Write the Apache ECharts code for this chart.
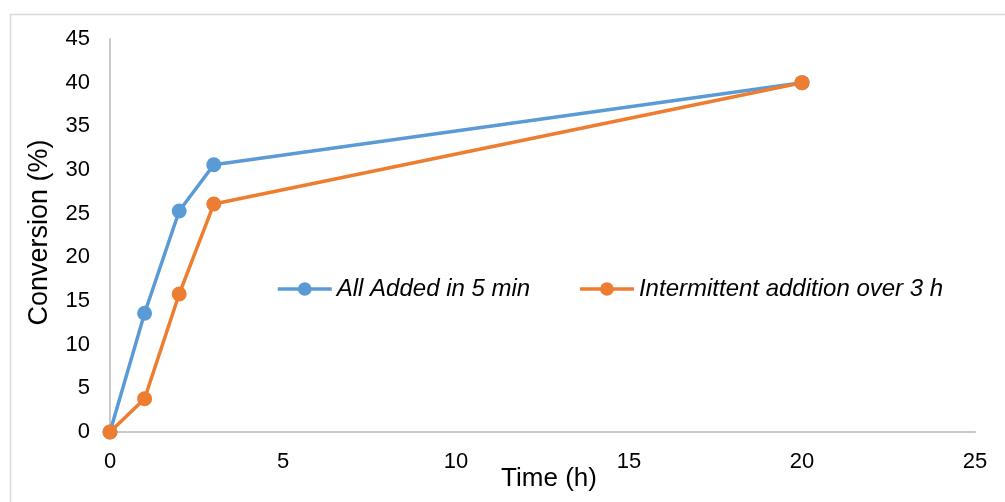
<!DOCTYPE html>
<html>
<head>
<meta charset="utf-8">
<script src="https://cdn.jsdelivr.net/npm/echarts@6/dist/echarts.min.js"></script>
<style>
  html, body { margin: 0; padding: 0; background: #fff; }
  #chart { width: 1005px; height: 502px; }
</style>
</head>
<body>
<div id="chart"></div>
<script>
// time (h) for each sample
var timeH = [0, 1, 2, 3, 20];
var allAdded = [0, 13.6, 25.3, 30.6, 40];
var intermittent = [0, 3.8, 15.8, 26.1, 40];
var seriesNames = ['All Added in 5 min', 'Intermittent addition over 3 h'];

function pairs(xs, ys) {
    var out = [];
    for (var i = 0; i < xs.length; i++) {
        out.push([xs[i], ys[i]]);
    }
    return out;
}

var myChart = echarts.init(document.getElementById('chart'));
var font = 'Liberation Sans, Arial, sans-serif';

var option = {
    animation: false,
    backgroundColor: '#ffffff',
    textStyle: { fontFamily: font },
    graphic: [{
        type: 'rect',
        left: 8,
        top: 12,
        shape: { width: 996, height: 500 },
        style: { fill: 'none', stroke: '#d9d9d9', lineWidth: 1.5 },
        silent: true
    }],
    grid: {
        left: 110,
        right: 30,
        top: 39,
        bottom: 70,
        outerBoundsMode: 'none'
    },
    legend: {
        left: 271,
        top: 272,
        itemWidth: 54,
        itemHeight: 17,
        itemGap: 48,
        lineStyle: { width: 3.5 },
        textStyle: {
            fontSize: 24,
            fontStyle: 'italic',
            color: '#000',
            fontFamily: font
        },
        data: seriesNames
    },
    xAxis: {
        type: 'value',
        min: 0,
        max: 25,
        interval: 5,
        name: 'Time (h)',
        nameLocation: 'middle',
        nameGap: 34,
        nameMoveOverlap: false,
        nameTextStyle: { fontSize: 26, color: '#000', fontFamily: font, padding: [0, 0, 0, 13] },
        axisLine: { show: true, lineStyle: { color: '#c9c9c9', width: 2 } },
        axisTick: { show: false },
        splitLine: { show: false },
        axisLabel: { fontSize: 22, color: '#000', margin: 19 }
    },
    yAxis: {
        type: 'value',
        min: 0,
        max: 45,
        interval: 5,
        name: 'Conversion (%)',
        nameLocation: 'middle',
        nameGap: 57,
        nameMoveOverlap: false,
        nameTextStyle: { fontSize: 27, color: '#000', fontFamily: font, padding: [0, 0, 0, 6] },
        axisLine: { show: true, lineStyle: { color: '#c9c9c9', width: 2 } },
        axisTick: { show: false },
        splitLine: { show: false },
        axisLabel: { fontSize: 22, color: '#000', margin: 20 }
    },
    series: [{
        name: seriesNames[0],
        type: 'line',
        symbol: 'circle',
        symbolSize: 15,
        color: '#5b9bd5',
        lineStyle: { width: 3.5 },
        data: pairs(timeH, allAdded)
    }, {
        name: seriesNames[1],
        type: 'line',
        symbol: 'circle',
        symbolSize: 15,
        color: '#ed7d31',
        lineStyle: { width: 3.5 },
        data: pairs(timeH, intermittent)
    }]
};

myChart.setOption(option);
</script>
</body>
</html>
